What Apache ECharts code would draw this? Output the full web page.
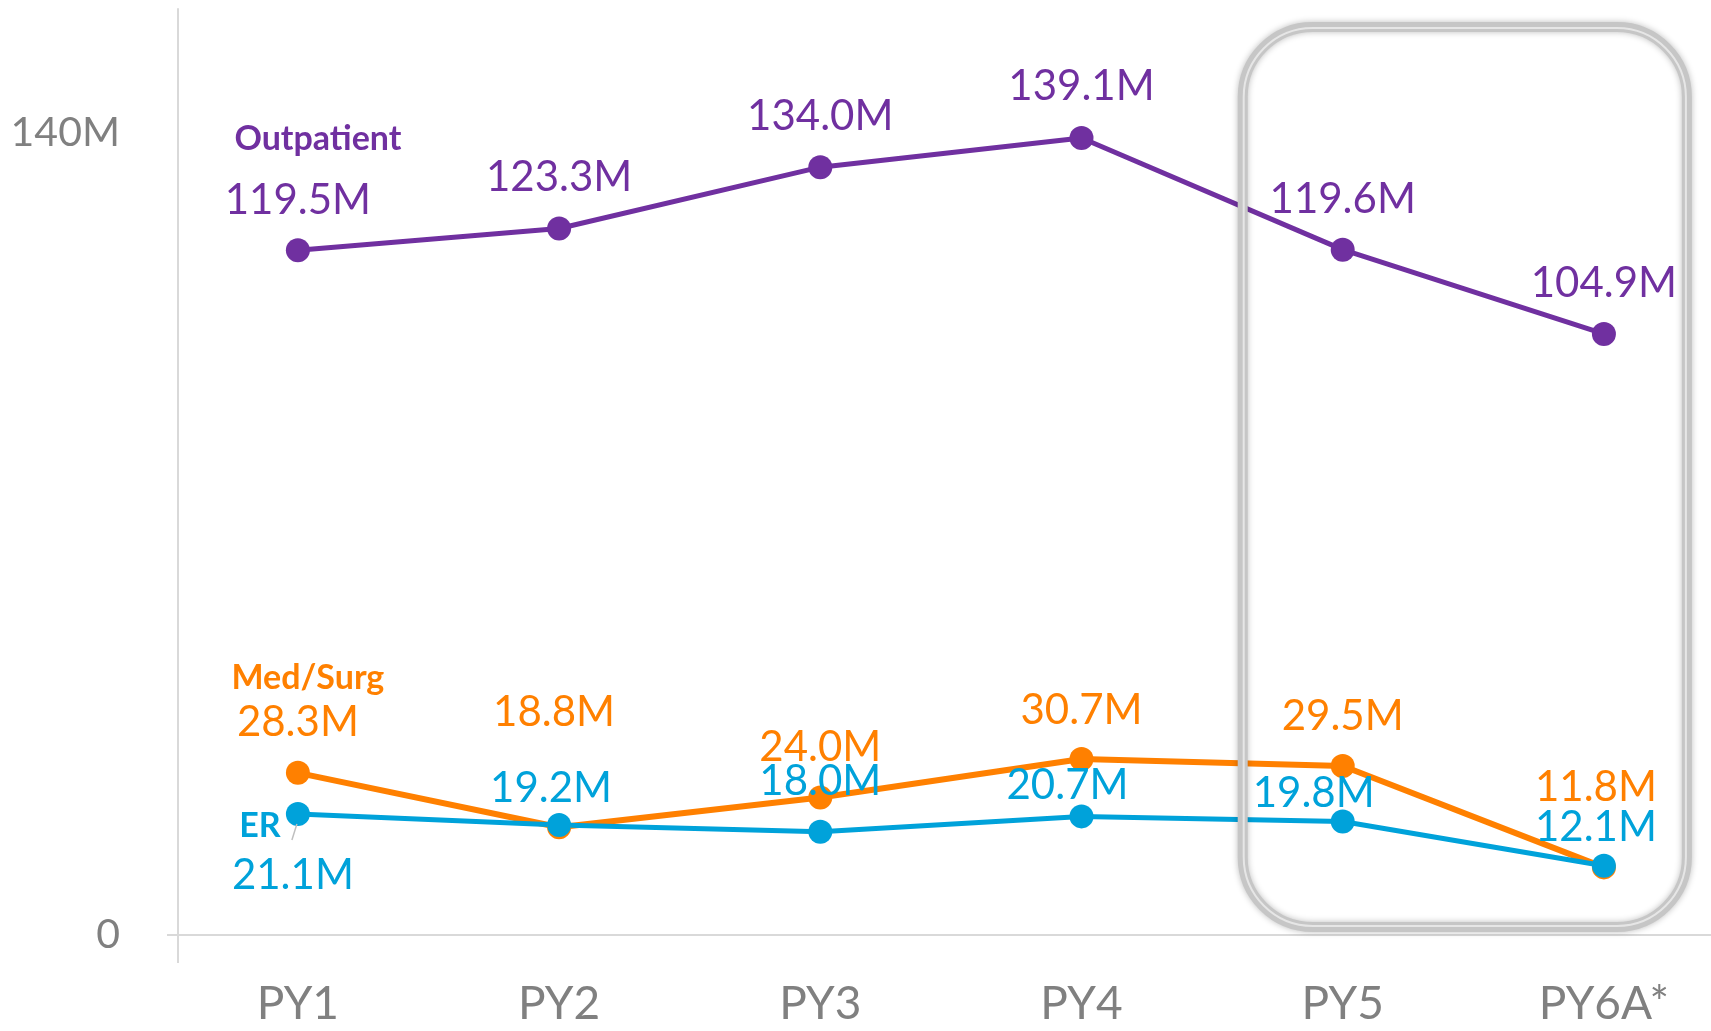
<!DOCTYPE html>
<html>
<head>
<meta charset="utf-8">
<script src="https://cdn.jsdelivr.net/npm/echarts@6/dist/echarts.min.js"></script>
<style>
html,body{margin:0;padding:0;background:#fff}
#chart{width:1711px;height:1031px}
</style>
</head>
<body>
<div id="chart"></div>
<script>
var categories = ['PY1', 'PY2', 'PY3', 'PY4', 'PY5', 'PY6A*'];
var outpatient = [119.5, 123.3, 134.0, 139.1, 119.6, 104.9];
var medSurg = [28.3, 18.8, 24.0, 30.7, 29.5, 11.8];
var er = [21.1, 19.2, 18.0, 20.7, 19.8, 12.1];
var yTickValues = [0, 140];

// label offsets [dx, dy] from the point centre
var outOffsets = [[0, -50], [0, -51], [0, -51], [0, -51], [0, -50], [0, -50]];
var msOffsets = [[0, -50], [-5, -115], [0, -50], [0, -49], [0, -50], [-8, -80]];
var erOffsets = [[-5, 61], [-8, -37], [0, -50], [-14, -31], [-29, -28], [-8, -38]];

var FONT = 'Lato';
var PURPLE = '#7030a0', ORANGE = '#ff8000', BLUE = '#00a2da', GRAY = '#808080', AXIS = '#d9d9d9';
var X_MIN = -0.459, X_MAX = 5.41;

function buildData(values, offsets) {
	return values.map(function(v, i) {
		return {
			value: [i, v],
			label: { offset: offsets[i] }
		};
	});
}

function lineSeries(name, values, offsets, color, width) {
	return {
		name: name,
		type: 'line',
		data: buildData(values, offsets),
		symbol: 'circle',
		symbolSize: 24,
		lineStyle: { color: color, width: width },
		itemStyle: { color: color },
		label: {
			show: true,
			position: 'inside',
			color: color,
			fontFamily: FONT,
			fontSize: 42,
			formatter: function(p) {
				return p.value[1].toFixed(1) + 'M';
			}
		},
		emphasis: { disabled: true },
		animation: false
	};
}

var chart = echarts.init(document.getElementById('chart'));

chart.setOption({
	backgroundColor: '#fff',
	animation: false,
	grid: { left: 178, right: 0, top: 9, bottom: 96, outerBoundsMode: 'none' },
	xAxis: {
		type: 'value',
		min: X_MIN,
		max: X_MAX,
		splitLine: { show: false },
		axisLine: { show: true, onZero: false, lineStyle: { color: AXIS, width: 2 } },
		axisTick: { show: true, customValues: [X_MIN], length: 28, lineStyle: { color: AXIS, width: 2 } },
		axisLabel: {
			customValues: [0, 1, 2, 3, 4, 5],
			formatter: function(v) {
				return categories[Math.round(v)];
			},
			margin: 46,
			color: GRAY,
			fontFamily: FONT,
			fontSize: 46
		}
	},
	yAxis: {
		type: 'value',
		min: 0,
		max: 161.6,
		splitLine: { show: false },
		axisLine: { show: true, onZero: false, lineStyle: { color: AXIS, width: 2 } },
		axisTick: { show: true, customValues: [0], length: 11, lineStyle: { color: AXIS, width: 2 } },
		axisLabel: {
			customValues: yTickValues,
			formatter: function(v) {
				return v === 0 ? '0' : v + 'M';
			},
			margin: 58,
			color: GRAY,
			fontFamily: FONT,
			fontSize: 41
		}
	},
	series: [
		lineSeries('Outpatient', outpatient, outOffsets, PURPLE, 5),
		lineSeries('Med/Surg', medSurg, msOffsets, ORANGE, 6),
		lineSeries('ER', er, erOffsets, BLUE, 5)
	]
});

//高亮框与系列名称
function px(x, y) {
	return chart.convertToPixel({ xAxisIndex: 0, yAxisIndex: 0 }, [x, y]);
}
var pOut = px(0, outpatient[0]);
var pMs = px(0, medSurg[0]);
var pEr = px(0, er[0]);
var p5 = px(4, 0);
var p6 = px(5, 0);
var boxLeft = p5[0] - 100, boxRight = p6[0] + 83;

function nameText(text, pos, color) {
	return {
		type: 'text',
		x: pos[0],
		y: pos[1],
		z: 10,
		style: {
			text: text,
			fill: color,
			font: 'bold 34px ' + FONT,
			align: 'center',
			verticalAlign: 'middle'
		}
	};
}

chart.setOption({
	graphic: [
		{
			type: 'rect',
			z: 5,
			shape: { x: boxLeft, y: 27, width: boxRight - boxLeft, height: 900, r: 70 },
			style: {
				fill: 'none',
				stroke: '#c6c6c6',
				lineWidth: 10,
				shadowBlur: 6,
				shadowColor: 'rgba(0,0,0,0.25)'
			}
		},
		{
			type: 'rect',
			z: 6,
			shape: { x: boxLeft + 1, y: 28, width: boxRight - boxLeft - 2, height: 898, r: 69 },
			style: { fill: 'none', stroke: '#e6e6e6', lineWidth: 2 }
		},
		nameText('Outpatient', [pOut[0] + 20, pOut[1] - 111], PURPLE),
		nameText('Med/Surg', [pMs[0] + 10, pMs[1] - 95], ORANGE),
		nameText('ER', [pEr[0] - 38, pEr[1] + 12], BLUE),
		{
			type: 'line',
			z: 10,
			shape: { x1: pEr[0] - 6, y1: pEr[1] + 26, x2: pEr[0] - 1, y2: pEr[1] + 10 },
			style: { stroke: '#bfbfbf', lineWidth: 1.5 }
		}
	]
});
</script>
</body>
</html>
